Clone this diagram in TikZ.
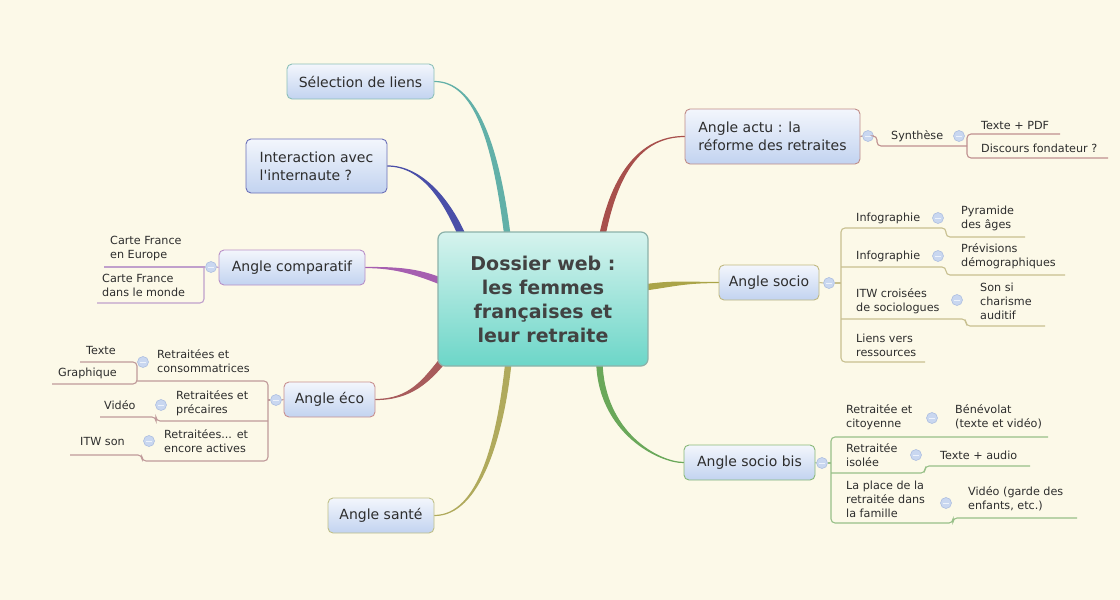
\documentclass[tikz,border=0pt]{standalone}
\usepackage{fontspec}
\setmainfont{DejaVu Sans}
\usepackage{tikz}
\usetikzlibrary{calc,positioning,backgrounds}
\definecolor{paper}{RGB}{252,249,232}
\definecolor{inkgrey}{RGB}{45,45,45}
\definecolor{boxtop}{RGB}{243,246,252}
\definecolor{boxbot}{RGB}{194,211,240}
\definecolor{hubtop}{RGB}{214,243,238}
\definecolor{hubbot}{RGB}{108,214,200}
\definecolor{hubrim}{RGB}{140,178,170}
\definecolor{knobfill}{RGB}{201,215,240}
\definecolor{knobrim}{RGB}{174,191,224}
\definecolor{knobdash}{RGB}{236,242,251}
% branch colours
\definecolor{selcol}{RGB}{98,176,168}
\definecolor{intercol}{RGB}{74,79,168}
\definecolor{compcol}{RGB}{166,95,176}
\definecolor{ecocol}{RGB}{168,92,92}
\definecolor{santecol}{RGB}{176,170,92}
\definecolor{actucol}{RGB}{168,80,76}
\definecolor{sociocol}{RGB}{170,164,72}
\definecolor{sbiscol}{RGB}{106,168,90}
% box rims and thin lines
\definecolor{selrim}{RGB}{140,192,184}
\definecolor{interrim}{RGB}{107,112,184}
\definecolor{comprim}{RGB}{184,144,200}
\definecolor{ecorim}{RGB}{200,144,144}
\definecolor{santerim}{RGB}{192,192,136}
\definecolor{acturim}{RGB}{192,140,136}
\definecolor{sociorim}{RGB}{192,184,128}
\definecolor{sbisrim}{RGB}{136,184,120}
\definecolor{comptwig}{RGB}{192,160,204}
\definecolor{ecotwig}{RGB}{192,154,154}
\definecolor{actutwig}{RGB}{192,144,144}
\definecolor{sociotwig}{RGB}{200,192,144}
\definecolor{sbistwig}{RGB}{152,192,136}
\newcommand{\branchfont}{\fontsize{14}{18}\selectfont}
\newcommand{\leaffont}{\fontsize{11.2}{14}\selectfont}
\newcommand{\hubfont}{\fontsize{19}{24}\selectfont\bfseries}
% tapered limb: colour, start, control 1, control 2, end, half width
\newcommand{\limb}[6]{%
  \filldraw[draw=#1,fill=#1,line width=1.2pt,line join=round]
    (#2) .. controls +(#3) and +(#4) .. ($(#5)+(#6)$)
    -- ($(#5)-(#6)$) .. controls +(#4) and +(#3) .. (#2) -- cycle;}

\begin{document}
\begin{tikzpicture}[x=1pt,y=-1pt,
  branch/.style={rectangle,rounded corners=5pt,line width=0.9pt,top color=boxtop,bottom color=boxbot,inner sep=0pt,align=left,font=\branchfont,text=inkgrey},
  hub/.style={rectangle,rounded corners=7pt,line width=1.2pt,draw=hubrim,top color=hubtop,bottom color=hubbot,inner sep=0pt,align=center,font=\hubfont,text=inkgrey!90},
  leaf/.style={inner sep=0pt,align=left,anchor=west,font=\leaffont,text=inkgrey},
  knob/.style={circle,minimum size=11pt,inner sep=0pt,draw=knobrim,fill=knobfill,line width=0.6pt,
    path picture={\draw[knobdash,line width=1pt] ([xshift=-2.8pt]path picture bounding box.center) -- ([xshift=2.8pt]path picture bounding box.center);}},
  twig/.style={line width=1.1pt,rounded corners=4pt}
]
  \useasboundingbox (0,0) rectangle (1120,600);

  % centre and main branches
  \node[hub,minimum width=210pt,minimum height=134pt] (ctr) at (543,299) {Dossier web :\\les femmes\\françaises et\\leur retraite};
  \node[branch,draw=selrim,minimum width=147pt,minimum height=35pt] (sel) at (360.5,81.5) {Sélection de liens};
  \node[branch,draw=interrim,minimum width=141pt,minimum height=54pt] (inter) at (316.5,166) {Interaction avec\\l\textquotesingle internaute ?};
  \node[branch,draw=comprim,minimum width=146pt,minimum height=35pt] (comp) at (292,267.5) {Angle comparatif};
  \node[branch,draw=ecorim,minimum width=91pt,minimum height=35pt] (eco) at (329.5,399.5) {Angle éco};
  \node[branch,draw=santerim,minimum width=106pt,minimum height=35pt] (sante) at (381,515.5) {Angle santé};
  \node[branch,draw=acturim,minimum width=175pt,minimum height=55pt] (actu) at (772.5,136.5) {Angle actu : la\\réforme des retraites};
  \node[branch,draw=sociorim,minimum width=100pt,minimum height=35pt] (socio) at (769,282.5) {Angle socio};
  \node[branch,draw=sbisrim,minimum width=131pt,minimum height=35pt] (sbis) at (749.5,462.5) {Angle socio bis};

  % Angle actu
  \node[knob] (kActu) at (868,136) {};
  \node[leaf] (synth) at (891,136) {Synthèse};
  \node[knob] (kSynth) at (959,136) {};
  \node[leaf] (txtpdf) at (981,125) {Texte + PDF};
  \node[leaf] (disc) at (981,148) {Discours fondateur ?};
  \draw[actutwig,twig] (actu.east) -- (kActu.west);
  \draw[actutwig,twig] (kActu.east) -- (877,136) -- (877,146) -- (967,146);
  \draw[actutwig,twig] (1060,134) -- (967,134) -- (967,158) -- (1108,158);

  % Angle socio
  \node[knob] (kSocio) at (829,283) {};
  \node[leaf] (infoA) at (856,218) {Infographie};
  \node[knob] (kInfoA) at (938,218) {};
  \node[leaf] (pyr) at (961,218) {Pyramide\\des âges};
  \node[leaf] (infoB) at (856,256) {Infographie};
  \node[knob] (kInfoB) at (938,256) {};
  \node[leaf] (prev) at (961,256) {Prévisions\\démographiques};
  \node[leaf] (itw) at (856,301) {ITW croisées\\de sociologues};
  \node[knob] (kItw) at (957,300) {};
  \node[leaf] (son) at (980,301) {Son si\\charisme\\auditif};
  \node[leaf] (liens) at (856,345) {Liens vers\\ressources};
  \draw[sociotwig,twig] (socio.east) -- (kSocio.west);
  \draw[sociotwig,twig] (kSocio.east) -- (841,283);
  \draw[sociotwig,twig] (1025,237) -- (946,237) -- (946,228) -- (841,228) -- (841,362) -- (925,362);
  \draw[sociotwig,twig] (841,267) -- (946,267) -- (946,275) -- (1065,275);
  \draw[sociotwig,twig] (841,319) -- (966,319) -- (966,326) -- (1045,326);

  % Angle socio bis
  \node[knob] (kSbis) at (822,463) {};
  \node[leaf] (cit) at (846,417) {Retraitée et\\citoyenne};
  \node[knob] (kCit) at (932,418) {};
  \node[leaf] (benev) at (955,417) {Bénévolat\\(texte et vidéo)};
  \node[leaf] (iso) at (846,455) {Retraitée\\isolée};
  \node[knob] (kIso) at (916,455) {};
  \node[leaf] (txtaud) at (940,455) {Texte + audio};
  \node[leaf] (place) at (846,499) {La place de la\\retraitée dans\\la famille};
  \node[knob] (kPlace) at (946,503) {};
  \node[leaf] (vidb) at (968,499) {Vidéo (garde des\\enfants, etc.)};
  \draw[sbistwig,twig] (sbis.east) -- (kSbis.west);
  \draw[sbistwig,twig] (kSbis.east) -- (831,463);
  \draw[sbistwig,twig] (1048,437) -- (831,437) -- (831,523) -- (953,523) -- (953,518) -- (1077,518);
  \draw[sbistwig,twig] (831,473) -- (925,473) -- (925,466) -- (1030,466);

  % Angle comparatif
  \node[knob] (kComp) at (211,267) {};
  \node[leaf] (europe) at (110,249) {Carte France\\en Europe};
  \node[leaf] (monde) at (102,285) {Carte France\\dans le monde};
  \draw[comptwig,twig] (comp.west) -- (kComp.east);
  \draw[comptwig,twig] (kComp.west) -- (104,267);
  \draw[comptwig,twig] (204,267) -- (204,303) -- (97,303);

  % Angle eco
  \node[knob] (kEco) at (276,400) {};
  \node[leaf] (conso) at (157,361) {Retraitées et\\consommatrices};
  \node[knob] (kConso) at (143,362) {};
  \node[leaf] (texte) at (86,350) {Texte};
  \node[leaf] (graph) at (58,373) {Graphique};
  \node[leaf] (prec) at (176,403) {Retraitées et\\précaires};
  \node[knob] (kPrec) at (161,405) {};
  \node[leaf] (video) at (104,405) {Vidéo};
  \node[leaf] (actives) at (164,441) {Retraitées... et\\encore actives};
  \node[knob] (kActives) at (149,441) {};
  \node[leaf] (itwson) at (80,441) {ITW son};
  \draw[ecotwig,twig] (eco.west) -- (kEco.east);
  \draw[ecotwig,twig] (kEco.west) -- (268,400);
  \draw[ecotwig,twig] (137,381) -- (268,381) -- (268,461) -- (142,461) -- (142,455) -- (70,455);
  \draw[ecotwig,twig] (268,421) -- (156,421) -- (156,417) -- (100,417);
  \draw[ecotwig,twig] (80,362) -- (137,362) -- (137,384) -- (52,384);

  \begin{scope}[on background layer]
    \fill[paper] (0,0) rectangle (1120,600);
    \coordinate (eSel) at ($(ctr.north west)+(70,4)$);
    \coordinate (eInter) at ($(ctr.north west)+(25,5)$);
    \coordinate (eActu) at ($(ctr.north west)+(165,4)$);
    \coordinate (eComp) at ($(ctr.north west)+(4,50)$);
    \coordinate (eSocio) at ($(ctr.north east)+(-4,56)$);
    \coordinate (eSante) at ($(ctr.south west)+(71,-4)$);
    \coordinate (eSbis) at ($(ctr.south west)+(162,-4)$);
    \coordinate (eEco) at ($(ctr.south west)+(7,-8)$);
    \limb{selcol}{sel.east}{40,0}{-12,-95}{eSel}{2.6,0}
    \limb{intercol}{inter.east}{35,0}{-15,-35}{eInter}{3.4,0}
    \limb{compcol}{comp.east}{30,0}{-25,-10}{eComp}{0,3}
    \limb{ecocol}{eco.east}{35,0}{-18,22}{eEco}{2.4,1.8}
    \limb{santecol}{sante.east}{45,0}{-8,75}{eSante}{2.6,0}
    \limb{actucol}{actu.west}{-45,0}{12,-60}{eActu}{2.6,0}
    \limb{sociocol}{socio.west}{-35,0}{30,-4}{eSocio}{0,2.6}
    \limb{sbiscol}{sbis.west}{-25,0}{2,70}{eSbis}{2.6,0}
  \end{scope}
\end{tikzpicture}
\end{document}
